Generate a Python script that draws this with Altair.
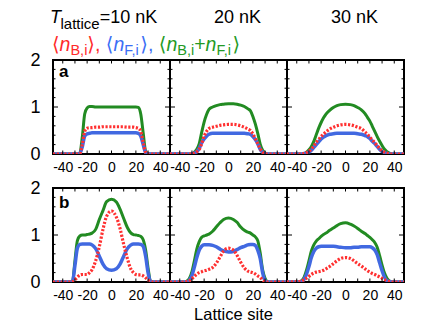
import altair as alt
import pandas as pd

# ---------------- data ----------------
SITES = [-48, -38, -36, -34, -32, -30, -28, -26, -24, -22, -20, -18, -16, -13, -10, -7, -4, 0,
         4, 7, 10, 13, 16, 18, 20, 22, 24, 26, 28, 30, 32, 34, 36, 38, 48]

# row a, T = 10 nK
A10_TOTAL = [0, 0, 0, 0, 0, 0, 0, 0.02, 0.35, 0.85, 0.98, 1.01, 1.01, 1.0, 1.0, 1.0, 1.0, 1.0,
             1.0, 1.0, 1.0, 1.0, 1.0, 1.0, 1.0, 0.99, 0.85, 0.45, 0.06, 0, 0, 0, 0, 0, 0]
A10_BOSE = [0, 0, 0, 0, 0, 0, 0, 0.01, 0.2, 0.48, 0.55, 0.56, 0.56, 0.57, 0.57, 0.58, 0.58, 0.58,
            0.58, 0.58, 0.58, 0.57, 0.57, 0.57, 0.56, 0.55, 0.48, 0.25, 0.04, 0, 0, 0, 0, 0, 0]
A10_FERMI = [0, 0, 0, 0, 0, 0, 0, 0.01, 0.15, 0.38, 0.43, 0.44, 0.45, 0.45, 0.45, 0.45, 0.45, 0.45,
             0.45, 0.45, 0.45, 0.45, 0.45, 0.45, 0.45, 0.44, 0.38, 0.2, 0.03, 0, 0, 0, 0, 0, 0]
# row a, T = 20 nK
A20_TOTAL = [0, 0, 0, 0, 0, 0, 0.04, 0.1, 0.22, 0.46, 0.68, 0.84, 0.95, 1.0, 1.03, 1.05, 1.06, 1.07,
             1.07, 1.06, 1.04, 1.01, 0.96, 0.92, 0.8, 0.64, 0.44, 0.21, 0.08, 0.02, 0, 0, 0, 0, 0]
A20_BOSE = [0, 0, 0, 0, 0, 0, 0.02, 0.05, 0.1, 0.22, 0.38, 0.48, 0.54, 0.57, 0.59, 0.61, 0.62, 0.63,
            0.63, 0.62, 0.6, 0.57, 0.53, 0.5, 0.43, 0.33, 0.22, 0.11, 0.04, 0.01, 0, 0, 0, 0, 0]
A20_FERMI = [0, 0, 0, 0, 0, 0, 0.02, 0.05, 0.12, 0.24, 0.32, 0.38, 0.42, 0.44, 0.44, 0.44, 0.44, 0.44,
             0.44, 0.44, 0.44, 0.44, 0.43, 0.42, 0.37, 0.31, 0.22, 0.1, 0.04, 0.01, 0, 0, 0, 0, 0]
# row a, T = 30 nK
A30_TOTAL = [0, 0, 0, 0.01, 0.04, 0.09, 0.16, 0.27, 0.41, 0.55, 0.67, 0.77, 0.85, 0.93, 0.99, 1.03, 1.05, 1.06,
             1.05, 1.03, 0.99, 0.94, 0.86, 0.78, 0.7, 0.59, 0.48, 0.37, 0.27, 0.18, 0.1, 0.05, 0.02, 0, 0]
A30_BOSE = [0, 0, 0, 0.01, 0.03, 0.06, 0.11, 0.17, 0.25, 0.31, 0.37, 0.42, 0.47, 0.53, 0.57, 0.6, 0.62, 0.63,
            0.62, 0.6, 0.57, 0.54, 0.47, 0.42, 0.36, 0.3, 0.24, 0.18, 0.12, 0.07, 0.04, 0.02, 0, 0, 0]
A30_FERMI = [0, 0, 0, 0.01, 0.02, 0.04, 0.08, 0.14, 0.2, 0.26, 0.32, 0.36, 0.39, 0.42, 0.43, 0.44, 0.44, 0.44,
             0.44, 0.44, 0.43, 0.42, 0.39, 0.37, 0.33, 0.27, 0.22, 0.16, 0.1, 0.05, 0.03, 0.01, 0, 0, 0]
# row b, T = 10 nK
B10_TOTAL = [0, 0, 0, 0, 0.01, 0.45, 0.88, 0.98, 1.0, 1.0, 1.01, 1.02, 1.04, 1.12, 1.33, 1.52, 1.71, 1.76,
             1.7, 1.55, 1.35, 1.16, 1.04, 1.01, 1.0, 0.99, 0.97, 0.9, 0.68, 0.3, 0.02, 0, 0, 0, 0]
B10_BOSE = [0, 0, 0, 0, 0.01, 0.05, 0.1, 0.15, 0.16, 0.16, 0.16, 0.2, 0.26, 0.45, 0.75, 1.12, 1.4, 1.51,
            1.38, 1.14, 0.8, 0.5, 0.27, 0.2, 0.16, 0.15, 0.15, 0.13, 0.09, 0.04, 0.01, 0, 0, 0, 0]
B10_FERMI = [0, 0, 0, 0, 0.01, 0.35, 0.72, 0.8, 0.81, 0.81, 0.81, 0.81, 0.79, 0.71, 0.55, 0.38, 0.28, 0.25,
             0.28, 0.38, 0.55, 0.71, 0.79, 0.81, 0.81, 0.81, 0.8, 0.76, 0.55, 0.2, 0.02, 0, 0, 0, 0]
# row b, T = 20 nK
B20_TOTAL = [0, 0, 0, 0.02, 0.08, 0.22, 0.45, 0.7, 0.86, 0.95, 0.98, 1.0, 1.02, 1.08, 1.17, 1.26, 1.33, 1.36,
             1.33, 1.27, 1.17, 1.1, 1.06, 1.04, 1.0, 0.96, 0.88, 0.62, 0.26, 0.08, 0.01, 0, 0, 0, 0]
B20_BOSE = [0, 0, 0, 0.01, 0.03, 0.07, 0.12, 0.17, 0.2, 0.22, 0.24, 0.25, 0.27, 0.31, 0.4, 0.53, 0.66, 0.72,
            0.68, 0.57, 0.42, 0.3, 0.23, 0.21, 0.2, 0.17, 0.13, 0.1, 0.04, 0.01, 0, 0, 0, 0, 0]
B20_FERMI = [0, 0, 0, 0, 0.04, 0.14, 0.32, 0.52, 0.68, 0.76, 0.79, 0.79, 0.79, 0.78, 0.75, 0.7, 0.66, 0.64,
             0.65, 0.69, 0.73, 0.76, 0.79, 0.8, 0.8, 0.78, 0.68, 0.5, 0.2, 0.03, 0, 0, 0, 0, 0]
# row b, T = 30 nK
B30_TOTAL = [0, 0, 0.03, 0.1, 0.25, 0.45, 0.66, 0.79, 0.87, 0.92, 0.97, 1.01, 1.04, 1.1, 1.15, 1.2, 1.24, 1.26,
             1.23, 1.19, 1.14, 1.08, 1.03, 0.99, 0.95, 0.9, 0.84, 0.74, 0.56, 0.36, 0.19, 0.08, 0.02, 0, 0]
B30_BOSE = [0, 0.01, 0.02, 0.05, 0.08, 0.12, 0.16, 0.19, 0.21, 0.22, 0.23, 0.25, 0.28, 0.33, 0.39, 0.45, 0.5, 0.52,
            0.5, 0.45, 0.39, 0.34, 0.28, 0.24, 0.21, 0.18, 0.16, 0.13, 0.11, 0.08, 0.05, 0.03, 0.01, 0, 0]
B30_FERMI = [0, 0, 0.01, 0.06, 0.17, 0.33, 0.52, 0.65, 0.72, 0.75, 0.76, 0.76, 0.76, 0.76, 0.76, 0.75, 0.74, 0.73,
             0.73, 0.74, 0.74, 0.75, 0.75, 0.75, 0.75, 0.73, 0.68, 0.58, 0.41, 0.24, 0.1, 0.03, 0.01, 0, 0]

ROW_LABELS = ["a", "b"]
TEMP_LABELS = ["10 nK", "20 nK", "30 nK"]
X_TICKS = [-40, -30, -20, -10, 0, 10, 20, 30, 40]
X_LABELS = [-40, -20, 0, 20, 40]
Y_LABELS = [0, 1, 2]
Y_MINOR = [0.2, 0.4, 0.6, 0.8, 1.2, 1.4, 1.6, 1.8]
Y_MAJOR = [1]
X_TITLE = "Lattice site"

PANELS = [
    [(A10_BOSE, A10_FERMI, A10_TOTAL), (A20_BOSE, A20_FERMI, A20_TOTAL), (A30_BOSE, A30_FERMI, A30_TOTAL)],
    [(B10_BOSE, B10_FERMI, B10_TOTAL), (B20_BOSE, B20_FERMI, B20_TOTAL), (B30_BOSE, B30_FERMI, B30_TOTAL)],
]

# ---------------- style ----------------
W, H = 117, 94
GREEN, BLUE, RED = "#228b22", "#4169e1", "#ff3030"
LG_RED, LG_BLUE, LG_GREEN = "#ff2a2a", "#3b6ef5", "#249a24"
FONT = "Liberation Sans, Arial, DejaVu Sans"

xs = alt.Scale(domain=[-48, 48], nice=False, zero=False)
ys = alt.Scale(domain=[0, 2], nice=False, zero=False)

# approximate Arial advance widths (em) used only to place rich-text pieces
ADV = {"⟨": 0.39, "⟩": 0.39, "n": 0.556, "B": 0.667, "F": 0.611, ",": 0.278, "i": 0.222,
       "+": 0.584, " ": 0.278}


def adv(s, size):
    return sum(ADV.get(c, 0.556) for c in s) * size


def txt(s, x, y, size, color="black", italic=False, bold=False, align="left"):
    props = dict(align=align, baseline="alphabetic", fontSize=size, font=FONT, color=color)
    if italic:
        props["fontStyle"] = "italic"
    if bold:
        props["fontWeight"] = "bold"
    return alt.Chart(pd.DataFrame({"t": [s]})).mark_text(**props).encode(
        text="t:N", x=alt.value(x), y=alt.value(y))


def panel(r, c):
    bose, fermi, total = PANELS[r][c]
    assert len(bose) == len(fermi) == len(total) == len(SITES)
    df = pd.DataFrame({"x": SITES, "bose": bose, "fermi": fermi, "total": total})

    xkw = dict(values=X_LABELS, labelExpr="'' + datum.value", ticks=False, tickSize=0, domain=False,
               grid=False, labelFontSize=14, labelPadding=6, labelFont=FONT, labelColor="black",
               labelFlush=False, labelOverlap=False)
    if r == 1 and c == 1:
        xkw.update(title=X_TITLE, titleFontSize=16.5, titleFont=FONT, titleFontWeight="normal",
                   titlePadding=4, titleColor="black", titleX=63)
    else:
        xkw.update(title=None)
    xaxis = alt.Axis(**xkw)
    if c == 0:
        yaxis = alt.Axis(values=Y_LABELS, labelExpr="'' + datum.value", ticks=False, tickSize=0,
                         domain=False, grid=False, labelFontSize=18, labelPadding=13, labelFont=FONT,
                         labelColor="black", labelFlush=False, labelOverlap=False, title=None)
    else:
        yaxis = None

    X = alt.X("x:Q", scale=xs, axis=xaxis)

    def Y(field):
        return alt.Y(f"{field}:Q", scale=ys, axis=yaxis)

    def line(field, color, width, dash=None):
        props = dict(color=color, strokeWidth=width, interpolate="monotone", clip=True)
        if dash:
            props["strokeDash"] = dash
        return alt.Chart(df).mark_line(**props).encode(x=X, y=Y(field))

    layers = [
        line("total", GREEN, 3),
        line("fermi", BLUE, 3.5),
        line("bose", RED, 3.2, dash=[2.2, 1.6]),
    ]
    tx = pd.DataFrame({"x": X_TICKS})
    tick = alt.Chart(tx).mark_rule(color="black", strokeWidth=1)
    layers.append(tick.encode(x=X, y=alt.value(0), y2=alt.value(3.5)))
    layers.append(tick.encode(x=X, y=alt.value(H), y2=alt.value(H - 3.5)))
    for vals, size in ((Y_MINOR, 2.5), (Y_MAJOR, 5)):
        ty = alt.Chart(pd.DataFrame({"y": vals})).mark_rule(color="black", strokeWidth=1)
        layers.append(ty.encode(y=Y("y"), x=alt.value(0), x2=alt.value(size)))
        layers.append(ty.encode(y=Y("y"), x=alt.value(W), x2=alt.value(W - size)))

    # panel letter
    if c == 0:
        layers.append(txt(ROW_LABELS[r], 6, 17 if r == 0 else 20, 17, bold=True))

    if r == 0:
        HB = -37
        if c == 0:
            layers.append(txt("T", -3, HB, 18, italic=True))
            layers.append(txt("lattice", 7.5, HB + 6, 15))
            layers.append(txt("=" + TEMP_LABELS[0], 7.5 + 2.612 * 15, HB, 18))
            # legend row
            LB, MS, SS, SD = -9.5, 19.5, 14.5, 4.5
            pieces = [
                ("⟨", LG_RED, "m"), ("n", LG_RED, "i"), ("B,i", LG_RED, "s"), ("⟩,", LG_RED, "m"), (" ", LG_RED, "m"),
                ("⟨", LG_BLUE, "m"), ("n", LG_BLUE, "i"), ("F,i", LG_BLUE, "s"), ("⟩,", LG_BLUE, "m"), (" ", LG_BLUE, "m"),
                ("⟨", LG_GREEN, "m"), ("n", LG_GREEN, "i"), ("B,i", LG_GREEN, "s"), ("+", LG_GREEN, "m"),
                ("n", LG_GREEN, "i"), ("F,i", LG_GREEN, "s"), ("⟩", LG_GREEN, "m"),
            ]
            cx = -1
            for s, col, kind in pieces:
                size = SS if kind == "s" else MS
                yb = LB + SD if kind == "s" else LB
                if s.strip():
                    layers.append(txt(s, cx, yb, size, color=col, italic=(kind == "i")))
                cx += adv(s, size)
        else:
            layers.append(txt(TEMP_LABELS[c], 67.5, HB, 18, align="center"))

    return alt.layer(*layers).properties(width=W, height=H)


cells = [panel(r, c) for r in range(2) for c in range(3)]

chart = alt.concat(
    *cells, columns=3, spacing=alt.RowColnumber(row=34, column=0), bounds="flush"
).properties(
    padding={"left": 20, "top": 0, "right": 5, "bottom": 0}
).configure_view(
    stroke="black", strokeWidth=2
)

chart.save("out.html", embed_options={"renderer": "svg", "actions": False})
